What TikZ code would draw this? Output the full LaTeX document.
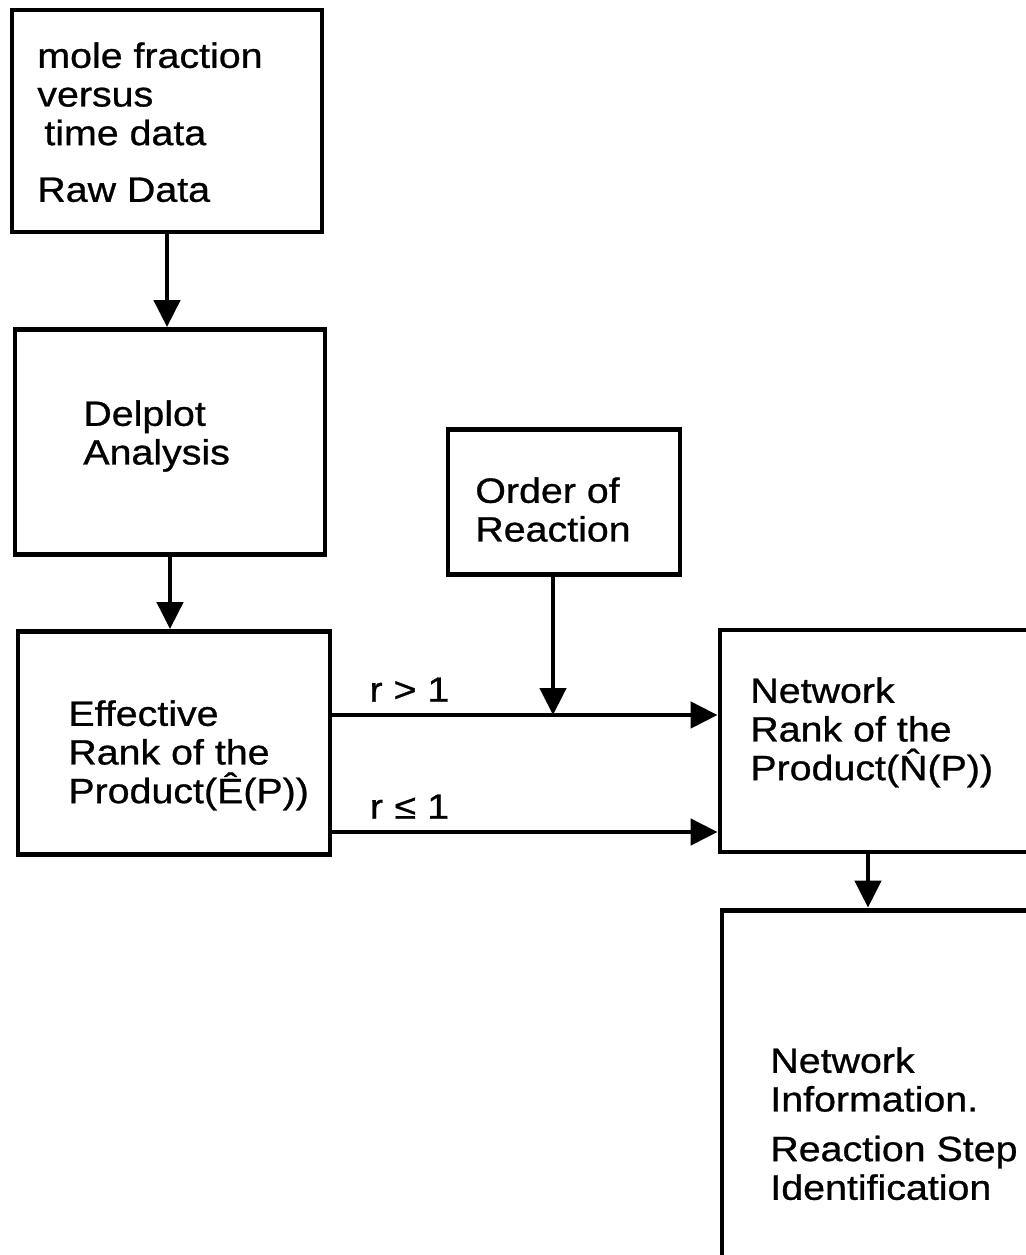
\documentclass[tikz,border=0pt]{standalone}
\usepackage{fontspec}
\setmainfont{Liberation Sans}[FakeStretch=1.12,FakeBold=0.8]
\usetikzlibrary{arrows.meta,positioning}

\tikzset{
  box/.style={draw, line width=2.8pt, inner sep=0pt},
  txt/.style={anchor=north west, inner sep=0pt, align=left,
    font=\fontsize{20}{22}\selectfont},
  lbl/.style={inner sep=0pt, font=\fontsize{20}{22}\selectfont},
  arr/.style={line width=2.6pt, -{Triangle[length=0.54cm,width=0.52cm]}}
}

\begin{document}
\begin{tikzpicture}[x=0.02cm,y=-0.02cm]
\path[use as bounding box] (0,0) rectangle (1026,1255);
\clip (0,0) rectangle (1026,1255);

% boxes
\node[box, minimum width=6.2cm, minimum height=4.44cm] (raw) at (167,121) {};
\node[box, minimum width=6.2cm, minimum height=4.5cm] (delplot) at (170,442) {};
\node[box, minimum width=6.24cm, minimum height=4.46cm] (effective) at (174,743) {};
\node[box, minimum width=4.64cm, minimum height=2.9cm] (order) at (564,502) {};
\node[box, minimum width=6.4cm, minimum height=4.44cm] (netrank) at (880,741) {};
\node[box, minimum width=6.36cm, minimum height=7.8cm] (netinfo) at (881,1105) {};

% texts
\node[txt] (rawtxt) at (37,42) {mole fraction\\versus\\\hspace*{0.2em}time data\\[0.36cm]Raw Data};
\node[txt] (delplottxt) at (83,400) {Delplot\\Analysis};
\node[txt] (effectivetxt) at (68,700) {Effective\\Rank of the\\Product(Ê(P))};
\node[txt] (ordertxt) at (475,477) {Order of\\Reaction};
\node[txt] (netranktxt) at (750,677) {Network\\Rank of the\\Product(\^{N}(P))};
\node[txt] (netinfotxt) at (770,1047) {Network\\Information.\\[0.22cm]Reaction Step\\Identification};

% connectors
\coordinate (join) at (553,715);
\coordinate (drop) at (868,0);
\draw[arr] (raw.south) -- (raw.south |- delplot.north);
\draw[arr] (delplot.south) -- (delplot.south |- effective.north);
\draw[arr] (effective.east |- join) -- (netrank.west |- join)
  node[lbl, pos=0.2, above=0.22cm] (gt) {r > 1};
\draw[arr] (effective.east |- 0,832) -- (netrank.west |- 0,832)
  node[lbl, pos=0.2, above=0.22cm] (le) {r\,\,≤ 1};
\draw[arr] (order.south -| join) -- (join);
\draw[arr] (netrank.south -| drop) -- (netinfo.north -| drop);
\end{tikzpicture}
\end{document}
